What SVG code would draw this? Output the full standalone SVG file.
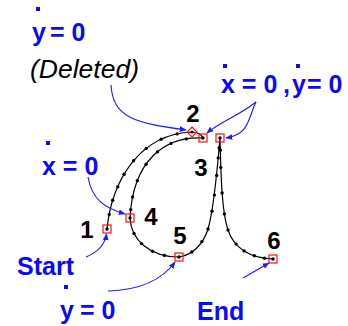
<svg xmlns="http://www.w3.org/2000/svg" width="348" height="326" viewBox="0 0 348 326">
<defs>
<style>
.curve{fill:none;stroke:#000;stroke-width:1.2}
.dot{fill:#000}
.mk{fill:none;stroke:#ff1010;stroke-width:1.2}
.num{font-family:"Liberation Sans",Arial,sans-serif;font-weight:bold;font-size:24px;fill:#000;text-anchor:middle}
.blue{font-family:"Liberation Sans",Arial,sans-serif;font-weight:bold;font-size:25px;fill:#0a0af5}
.acc{fill:#0a0af5}
.arr{fill:none;stroke:#1a1aff;stroke-width:1.1;marker-end:url(#ah)}
</style>
<marker id="ah" viewBox="0 0 10 10" refX="9" refY="5" markerWidth="7" markerHeight="7" markerUnits="userSpaceOnUse" orient="auto">
<path d="M0,1 L10,5 L0,9 Z" fill="#1a1aff"/>
</marker>
</defs>
<rect width="348" height="326" fill="#fff"/>

<g id="connectors">
<path class="curve" d="M107,229 C112,180 140,134 192,132 C197,132 201,134 203,138 C165,136 133,160 130,218 C131,240 150,257 179,257 C192,255 203,245 208,229 C213,213 216,185 220,138 C221,180 222,212 228,230 C234,248 250,258 273,259"/>
<g class="dot">
<circle cx="109.2" cy="214.4" r="1.7"/><circle cx="112.7" cy="200.3" r="1.7"/><circle cx="117.8" cy="186.8" r="1.7"/><circle cx="124.1" cy="174.3" r="1.7"/><circle cx="133.6" cy="160.8" r="1.7"/><circle cx="146.2" cy="148.4" r="1.7"/><circle cx="161.1" cy="139.2" r="1.7"/><circle cx="177.1" cy="133.9" r="1.7"/>
<circle cx="186.3" cy="138.9" r="1.7"/><circle cx="171" cy="143.4" r="1.7"/><circle cx="157.4" cy="151.9" r="1.7"/><circle cx="146.1" cy="164.2" r="1.7"/><circle cx="137.3" cy="180.8" r="1.7"/><circle cx="132.6" cy="197" r="1.7"/><circle cx="130.7" cy="209.6" r="1.7"/>
<circle cx="134" cy="233.4" r="1.7"/><circle cx="141.5" cy="243.6" r="1.7"/><circle cx="152.6" cy="251.3" r="1.7"/><circle cx="164.4" cy="255.4" r="1.7"/>
<circle cx="191.8" cy="252" r="1.7"/><circle cx="201.9" cy="241.6" r="1.7"/><circle cx="208" cy="229" r="1.7"/>
<circle cx="212" cy="211.2" r="1.7"/><circle cx="214.4" cy="195.1" r="1.7"/><circle cx="216.7" cy="175.4" r="1.7"/><circle cx="218.2" cy="157.9" r="1.7"/><circle cx="219.2" cy="148" r="1.7"/>
<circle cx="220.3" cy="150.3" r="1.7"/><circle cx="220.8" cy="167.5" r="1.7"/><circle cx="222.1" cy="193" r="1.7"/><circle cx="224.4" cy="213.9" r="1.7"/><circle cx="228" cy="230" r="1.7"/>
<circle cx="236.1" cy="244.1" r="1.7"/><circle cx="244.1" cy="250.9" r="1.7"/><circle cx="254.3" cy="255.7" r="1.7"/><circle cx="264.4" cy="258.2" r="1.7"/>
</g>
<path class="arr" d="M111,85 C113,118 135,123 186,130"/>
<path class="arr" d="M256,102 C240,115 220,122 207,133"/>
<path class="arr" d="M256,102 C248,118 250,134 226,138"/>
<path class="arr" d="M88,177 C92,200 105,208 125,214"/>
<path class="arr" d="M86,257 C98,252 105,245 106.5,234"/>
<path class="arr" d="M108,291 C140,290 162,280 175,262"/>
<path class="arr" d="M243,278 L269,263"/>
</g>

<g id="node-1"><rect class="mk" x="103" y="225" width="8" height="8"/><circle class="dot" cx="107" cy="229" r="1.7"/><text class="num" x="87" y="238">1</text></g>
<g id="node-2"><path class="mk" d="M192,127 L197,132 L192,137 L187,132 Z"/><circle class="dot" cx="192" cy="132" r="1.5"/><text class="num" x="193" y="122">2</text></g>
<g id="node-2b"><rect class="mk" x="199" y="134" width="8" height="8"/><circle class="dot" cx="203" cy="138" r="1.7"/></g>
<g id="node-3"><rect class="mk" x="216" y="134" width="8" height="8"/><circle class="dot" cx="220" cy="138" r="1.7"/><text class="num" x="201" y="176">3</text></g>
<g id="node-4"><rect class="mk" x="126" y="214" width="8" height="8"/><circle class="dot" cx="130" cy="218" r="1.7"/><text class="num" x="151" y="225">4</text></g>
<g id="node-5"><rect class="mk" x="175" y="253" width="8" height="8"/><circle class="dot" cx="179" cy="257" r="1.7"/><text class="num" x="180" y="244">5</text></g>
<g id="node-6"><rect class="mk" x="269" y="255" width="8" height="8"/><circle class="dot" cx="273" cy="259" r="1.7"/><text class="num" x="274" y="249">6</text></g>

<g id="labels">
<rect class="acc" x="36" y="7" width="4" height="4"/>
<text class="blue" y="41"><tspan x="32">y</tspan><tspan x="50">= 0</tspan></text>
<text x="30" y="78" font-family="'Liberation Sans',Arial,sans-serif" font-style="italic" font-size="26.5" fill="#000">(Deleted)</text>
<rect class="acc" x="223" y="64" width="4" height="4"/>
<rect class="acc" x="296" y="64" width="4" height="4"/>
<text class="blue" y="93"><tspan x="221">x = 0</tspan><tspan x="283">,</tspan><tspan x="292">y</tspan><tspan x="307">= 0</tspan></text>
<rect class="acc" x="46" y="141" width="4" height="4"/>
<text class="blue" x="42" y="175">x = 0</text>
<text class="blue" x="17" y="275">Start</text>
<rect class="acc" x="64" y="285" width="4" height="4"/>
<text class="blue" y="319"><tspan x="60">y</tspan><tspan x="80">= 0</tspan></text>
<text class="blue" x="197" y="320">End</text>
</g>
</svg>
